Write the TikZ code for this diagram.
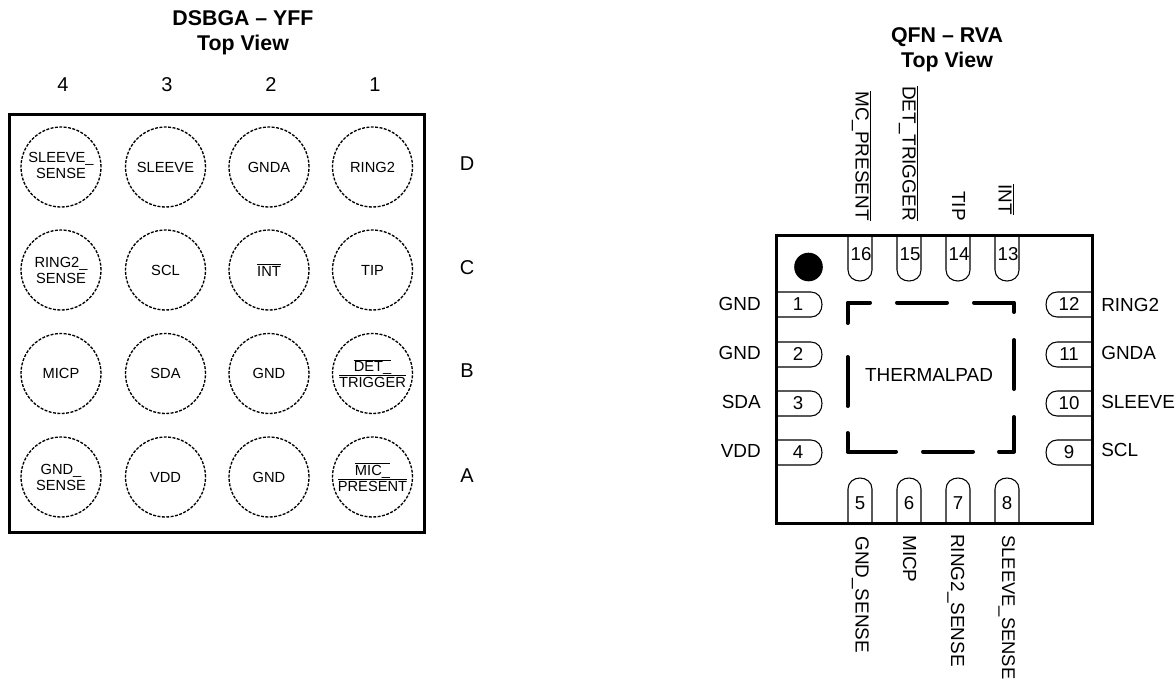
\documentclass[tikz,border=0pt]{standalone}
\usepackage{fontspec}
\setmainfont{Liberation Sans}
\tikzset{
  x=0.75pt,y=-0.75pt,
  ball/.style={circle,draw,dash pattern=on 2.2pt off 1.1pt,line width=1pt,minimum size=60pt,inner sep=0pt,align=center,font=\fontsize{11}{12}\selectfont},
  hdr/.style={font=\bfseries\fontsize{16}{18.75}\selectfont,align=center,inner sep=0pt},
  idx/.style={font=\fontsize{15}{17}\selectfont,inner sep=0pt},
  lbl/.style={font=\fontsize{14.2}{16}\selectfont,inner sep=0pt},
  pinline/.style={line width=0.8pt},
  padline/.style={line width=3pt,line cap=round,line join=round},
  num/.style={font=\fontsize{14}{16}\selectfont,inner sep=0pt}
}
\newcommand{\ol}[1]{$\overline{\hbox{#1}}$}
\begin{document}
\begin{tikzpicture}
\useasboundingbox (0,0) rectangle (1176,679);
\node[hdr] (t1) at (243,32.5) {DSBGA – YFF\\Top View};
\node[hdr] (t2) at (947,49.5) {QFN – RVA\\Top View};
\foreach \n/\x/\s in {c4/63/4,c3/167/3,c2/271/2,c1/375/1}{\node[idx] (\n) at (\x,85) {\s};}
\foreach \n/\y/\s in {rD/164/D,rC/268/C,rB/371/B,rA/476/A}{\node[idx] (\n) at (467,\y) {\s};}
\draw[line width=2.25pt] (9,114) rectangle (424,532);
\node[ball] (d4) at (61,167) {\raisebox{2pt}{\begin{tabular}{@{}c@{}}SLEEVE\_\\SENSE\end{tabular}}};
\node[ball] (d3) at (165.5,167) {SLEEVE};
\node[ball] (d2) at (269,167) {GNDA};
\node[ball] (d1) at (372.5,167) {RING2};
\node[ball] (c4b) at (61,270) {RING2\_\\SENSE};
\node[ball] (c3b) at (165.5,270) {SCL};
\node[ball] (c2b) at (269,270) {\ol{INT}};
\node[ball] (c1b) at (372.5,270) {TIP};
\node[ball] (b4) at (61,373.5) {MICP};
\node[ball] (b3) at (165.5,373.5) {SDA};
\node[ball] (b2) at (269,373.5) {GND};
\node[ball] (b1) at (372.5,373.5) {\ol{DET\_}\\\ol{TRIGGER}};
\node[ball] (a4) at (61,477) {GND\_\\SENSE};
\node[ball] (a3) at (165.5,477) {VDD};
\node[ball] (a2) at (269,477) {GND};
\node[ball] (a1) at (372.5,477) {\ol{MIC\_}\\\ol{PRESENT}};
% QFN body
\draw[line width=2.25pt] (776.5,235) rectangle (1092,523);
\fill (808.5,267) circle (14.3);
% top pins
\foreach \x/\s in {848/16,897/15,946/14,995/13}{
  \draw[pinline] (\x,235) -- (\x,270) .. controls (\x,277) and (\x+6,281) .. (\x+12,281) .. controls (\x+18,281) and (\x+24,277) .. (\x+24,270) -- (\x+24,235);
  \node[num] (p\s) at (\x+13,254) {\s};
}
% bottom pins
\foreach \x/\s in {848/5,897/6,946/7,995/8}{
  \draw[pinline] (\x,523) -- (\x,489) .. controls (\x,482) and (\x+6,478) .. (\x+12,478) .. controls (\x+18,478) and (\x+24,482) .. (\x+24,489) -- (\x+24,523);
  \node[num] (p\s) at (\x+12,503) {\s};
}
% left pins
\foreach \y/\s in {292/1,342/2,391/3,440/4}{
  \draw[pinline] (776.5,\y) -- (811,\y) .. controls (818,\y) and (822,\y+6) .. (822,\y+12.5) .. controls (822,\y+19) and (818,\y+25) .. (811,\y+25) -- (776.5,\y+25);
  \node[num] (p\s) at (798,\y+12) {\s};
}
% right pins
\foreach \y/\s in {292/12,342/11,391/10,440/9}{
  \draw[pinline] (1092,\y) -- (1057,\y) .. controls (1050,\y) and (1046,\y+6) .. (1046,\y+12.5) .. controls (1046,\y+19) and (1050,\y+25) .. (1057,\y+25) -- (1092,\y+25);
  \node[num] (p\s) at (1069,\y+12) {\s};
}
% thermal pad
\draw[padline] (847.5,323) -- (847.5,302.5) -- (870,302.5);
\draw[padline] (897,302.5) -- (947,302.5);
\draw[padline] (974,302.5) -- (1014,302.5) -- (1014,312);
\draw[padline] (1014,340) -- (1014,389);
\draw[padline] (1014,417) -- (1014,451.5) -- (999,451.5);
\draw[padline] (973,451.5) -- (923,451.5);
\draw[padline] (896,451.5) -- (847.5,451.5) -- (847.5,433);
\draw[padline] (847.5,406) -- (847.5,357);
\node[lbl] (pad) at (929,375) {THERMALPAD};
% side labels
\foreach \n/\y/\s in {g1/304/GND,g2/353/GND,g3/402/SDA,g4/451/VDD}{\node[lbl,anchor=east] (\n) at (761,\y) {\s};}
\foreach \n/\y/\s in {h1/305/RING2,h2/353/GNDA,h3/402/SLEEVE,h4/450/SCL}{\node[lbl,anchor=west] (\n) at (1101,\y) {\s};}
% rotated labels
\node[lbl,rotate=-90,anchor=base east] (l16) at (855.5,221) {\ol{MC\_PRESENT}};
\node[lbl,rotate=-90,anchor=base east] (l15) at (902.5,221) {\ol{DET\_TRIGGER}};
\node[lbl,rotate=-90,anchor=base east] (l14) at (952,221) {TIP};
\node[lbl,rotate=-90,anchor=base east] (l13) at (998.5,215) {\ol{INT}};
\node[lbl,rotate=-90,anchor=base west] (l5) at (855.5,536) {GND\_SENSE};
\node[lbl,rotate=-90,anchor=base west] (l6) at (903,535) {MICP};
\node[lbl,rotate=-90,anchor=base west] (l7) at (951,534) {RING2\_SENSE};
\node[lbl,rotate=-90,anchor=base west,font=\fontsize{13.8}{16}\selectfont] (l8) at (1002,535) {SLEEVE\_SENSE};
\end{tikzpicture}
\end{document}
